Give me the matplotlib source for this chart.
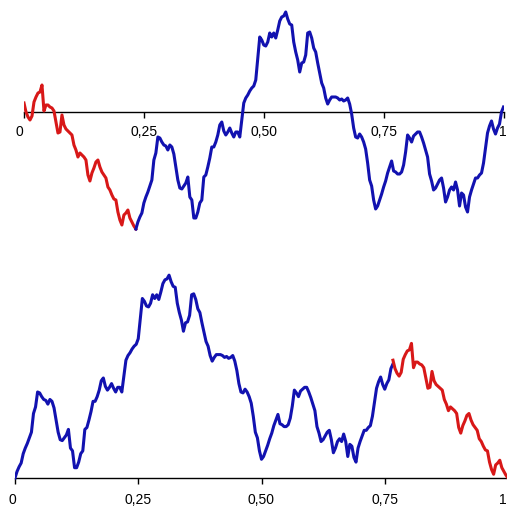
import matplotlib.pyplot as plt
import matplotlib.transforms as mtransforms
import numpy as np

# path heights, one value every 1/240 of the time axis
path = [
    9, 0, -5, -8, -4, 10, 15, 19, 20, 27,
    1, 7, 7, 5, 4, 1, -10, -21, -20, -3,
    -13, -17, -19, -21, -23, -33, -38, -45, -41, -43,
    -45, -48, -63, -69, -61, -56, -50, -48, -55, -60,
    -63, -66, -75, -78, -83, -87, -88, -100, -108, -113,
    -103, -101, -98, -106, -110, -114, -117, -110, -105, -101,
    -91, -85, -80, -74, -68, -48, -41, -25, -26, -30,
    -33, -34, -38, -33, -35, -42, -55, -68, -76, -77,
    -74, -71, -65, -85, -88, -106, -106, -100, -91, -88,
    -65, -63, -55, -46, -35, -35, -30, -23, -13, -10,
    -19, -23, -20, -16, -21, -25, -20, -20, -25, -8,
    9, 14, 17, 21, 24, 26, 32, 54, 75, 72,
    67, 66, 70, 79, 75, 79, 74, 82, 91, 95,
    96, 100, 93, 88, 87, 70, 60, 52, 40, 49,
    50, 57, 79, 80, 74, 64, 60, 49, 39, 29,
    24, 14, 8, 12, 15, 15, 15, 14, 12, 13,
    11, 12, 14, 8, -2, -16, -25, -26, -22, -25,
    -30, -37, -51, -68, -74, -88, -97, -94, -88, -82,
    -75, -69, -61, -55, -49, -59, -60, -62, -62, -60,
    -53, -40, -23, -26, -30, -24, -22, -20, -20, -25,
    -31, -38, -45, -62, -69, -78, -76, -72, -68, -66,
    -76, -90, -85, -78, -75, -78, -70, -78, -94, -81,
    -83, -95, -100, -85, -78, -72, -66, -66, -63, -61,
    -51, -36, -21, -14, -9, -17, -22, -16, -12, 0,
    5,
]
ticks = [0, 0.25, 0.5, 0.75, 1]
tick_labels = ["0", "0,25", "0,50", "0,75", "1"]
blue = "#1212b0"
red = "#d81818"

path = np.array(path, dtype=float)
n = len(path) - 1
t = np.arange(n + 1) / n
k = int(np.argmin(path))
low = path[k]


def setup(ax, pad, first_dx, last_dx):
    for s in ["left", "right", "top"]:
        ax.spines[s].set_visible(False)
    ax.spines["bottom"].set_position(("data", 0))
    ax.spines["bottom"].set_linewidth(1.0)
    ax.set_xlim(0, 1)
    ax.set_xticks(ticks)
    ax.set_xticklabels(tick_labels, fontfamily="Liberation Sans", fontsize=10)
    ax.tick_params(axis="x", direction="out", length=4, width=1, pad=pad)
    ax.set_yticks([])
    ax.patch.set_alpha(0)
    labels = ax.get_xticklabels()
    for lab, dx in [(labels[0], first_dx), (labels[-1], last_dx)]:
        lab.set_transform(lab.get_transform() +
                          mtransforms.ScaledTranslation(dx / 100, 0, fig.dpi_scale_trans))


fig = plt.figure(figsize=(5.07, 5.08), dpi=100)

# original path, red up to the minimum
ax1 = fig.add_axes([24 / 507, 258 / 508, 479.5 / 507, 250 / 508])
ax1.plot(t[:k + 1], path[:k + 1], color=red, lw=2.2, zorder=3)
ax1.plot(t[k:], path[k:], color=blue, lw=2.2, zorder=3)
ax1.set_ylim(-138, 112)
setup(ax1, 5.5, -5, -1)

# same path cut at the minimum and swapped round
ax2 = fig.add_axes([15 / 507, 0, 493 / 507, 248 / 508])
s = n - k
ax2.plot(t[:s + 1], path[k:] - low, color=blue, lw=2.2, zorder=3)
ax2.plot(t[s:], path[:k + 1] - low, color=red, lw=2.2, zorder=3)
ax2.set_ylim(-32.1, 233.2)
setup(ax2, 7, -3, -5)

fig.savefig("out.png", dpi=100)
